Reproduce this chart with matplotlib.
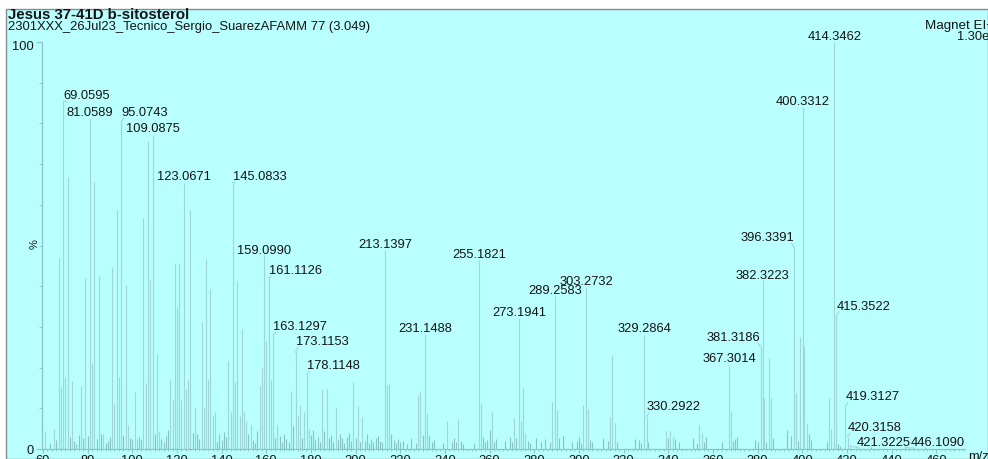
import matplotlib
matplotlib.use("Agg")
import matplotlib.pyplot as plt
from matplotlib.patches import Rectangle
from matplotlib.ticker import MultipleLocator, FixedLocator
from matplotlib.transforms import ScaledTranslation

plt.rcParams['font.family'] = ['Liberation Sans', 'DejaVu Sans']

# labelled peaks: m/z and relative intensity (%)
peak_mz = [69.0595, 81.0589, 95.0743, 109.0875, 123.0671, 145.0833, 159.0990,
           161.1126, 163.1297, 173.1153, 178.1148, 213.1397, 231.1488, 255.1821,
           273.1941, 289.2583, 303.2732, 329.2864, 330.2922, 367.3014, 381.3186,
           382.3223, 396.3391, 400.3312, 414.3462, 415.3522, 419.3127, 420.3158,
           421.3225, 446.1090]
peak_pct = [85.5, 81.1, 80.4, 77.1, 65.4, 65.4, 47.7,
            42.0, 28.0, 23.8, 18.2, 48.9, 28.3, 46.4,
            32.2, 37.6, 39.6, 28.0, 7.9, 20.6, 25.1,
            41.5, 49.6, 84.0, 100.0, 32.9, 10.4, 3.0,
            0.8, 0.4]

# unlabelled peaks
other_mz = [61, 65, 67, 68, 70, 71, 73, 77, 79, 82, 83, 85, 87, 91, 92, 93, 94, 97,
            98, 101, 102, 105, 106, 107, 108, 111, 112, 117, 118, 119, 120, 121, 122,
            124, 125, 126, 128, 131, 132, 133, 134, 135, 136, 137, 143, 144, 146, 147,
            148, 149, 150, 151, 153, 157, 158, 160, 162, 165, 171, 174, 175, 177, 179,
            185, 187, 191, 199, 201, 203, 214, 215, 228, 229, 232, 241, 246, 256, 261,
            271, 274, 275, 276, 288, 290, 302, 304, 314, 315, 316, 339, 341, 342, 354,
            355, 368, 383, 385, 386, 397, 399, 401, 402, 412, 413]
other_pct = [4.4, 4.9, 47.0, 15.2, 17.8, 66.9, 16.8, 15.6, 41.9, 21.1, 65.5, 42.6, 3.6,
             44.6, 11.3, 58.6, 17.8, 40.3, 6.0, 14.1, 2.5, 56.7, 16.3, 75.7, 41.8, 23.3,
             4.5, 17.0, 12.0, 45.6, 35.0, 45.8, 12.0, 14.7, 17.0, 58.6, 10.0, 31.3, 10.0,
             46.7, 17.0, 39.2, 8.0, 9.0, 21.7, 9.0, 16.5, 41.3, 8.0, 29.5, 9.0, 7.0, 6.0,
             15.5, 19.8, 26.6, 17.0, 6.0, 14.2, 8.4, 10.8, 9.2, 5.0, 14.7, 14.7, 10.4,
             16.5, 10.5, 7.9, 15.7, 16.0, 13.3, 14.3, 8.9, 7.0, 7.4, 11.1, 9.2, 7.6, 7.0,
             14.9, 4.0, 11.6, 9.6, 10.8, 9.8, 7.9, 23.1, 6.5, 4.3, 4.4, 3.2, 5.9, 4.0, 9.3,
             12.6, 22.4, 12.6, 13.7, 27.4, 25.4, 6.4, 12.6, 4.8]

# small background ions near the baseline
small_mz = [63, 66, 72, 74, 75, 76, 78, 80, 84, 86, 88, 89, 90, 96, 99, 100, 103, 104,
            110, 113, 114, 115, 116, 127, 129, 130, 138, 139, 140, 141, 142, 152, 154,
            155, 156, 164, 166, 167, 168, 169, 170, 172, 176, 180, 181, 182, 183, 184,
            186, 188, 189, 190, 192, 193, 194, 195, 196, 197, 198, 200, 202, 204, 205,
            206, 207, 208, 209, 210, 211, 212, 216, 217, 218, 219, 220, 221, 223, 225,
            227, 230, 233, 234, 235, 239, 243, 244, 245, 247, 248, 253, 257, 258, 259,
            260, 262, 263, 267, 269, 270, 272, 277, 278, 281, 283, 285, 287, 291, 293,
            297, 299, 300, 301, 305, 306, 311, 313, 317, 325, 327, 328, 331, 340, 343,
            345, 351, 353, 356, 357, 364, 369, 370, 371, 379, 380, 384, 387, 393, 395,
            398, 403, 404, 411, 416, 417, 431, 455]
small_pct = [1.5, 2.2, 3.0, 2.0, 1.2, 3.5, 2.6, 3.2, 2.4, 3.8, 1.4, 2.0, 3.0, 3.4, 2.8,
             2.5, 3.0, 2.2, 3.6, 2.4, 1.6, 3.2, 4.6, 4.0, 3.6, 2.4, 1.8, 3.8, 2.2, 4.2,
             3.0, 3.8, 2.2, 1.4, 4.4, 2.8, 3.2, 1.6, 3.8, 2.4, 1.8, 5.6, 2.8, 3.4, 4.6,
             2.2, 3.0, 1.6, 4.4, 2.6, 3.4, 1.8, 2.2, 3.6, 2.8, 1.4, 3.0, 4.0, 2.0, 2.6,
             1.6, 2.0, 3.8, 1.4, 2.4, 1.8, 2.8, 3.2, 2.0, 1.6, 3.6, 2.2, 1.4, 2.4, 1.8,
             2.0, 1.2, 2.6, 1.4, 3.4, 3.2, 1.8, 2.2, 1.4, 1.8, 2.6, 1.6, 2.0, 1.2, 1.4,
             3.0, 1.6, 2.2, 4.6, 1.8, 2.4, 2.0, 3.0, 1.6, 2.8, 2.0, 1.4, 2.6, 1.6, 2.4,
             1.8, 2.6, 3.2, 1.6, 2.0, 3.0, 1.4, 2.2, 1.6, 2.8, 2.0, 1.6, 2.4, 2.2, 1.4,
             1.8, 2.6, 2.4, 1.6, 2.8, 1.4, 1.8, 3.0, 1.6, 2.0, 2.4, 3.0, 2.2, 1.8, 1.6,
             2.8, 4.6, 3.2, 2.0, 3.6, 2.2, 1.6, 1.2, 0.8, 0.6, 0.5]

# where each label sits (% height of text centre) and which side of the peak it hangs
label_y = [86.8, 82.6, 82.6, 78.6, 66.8, 66.8, 48.6,
           43.8, 30.0, 26.3, 20.5, 50.1, 29.5, 47.7,
           33.4, 38.8, 41.1, 29.5, 10.3, 22.1, 27.3,
           42.6, 51.8, 85.3, 101.2, 35.0, 12.8, 5.2,
           1.5, 1.5]
label_side = ['l', 'c', 'l', 'c', 'c', 'l', 'c',
              'l', 'l', 'l', 'l', 'c', 'c', 'c',
              'c', 'c', 'c', 'c', 'l', 'c', 'r',
              'c', 'r', 'c', 'c', 'l', 'l', 'l',
              'l', 'l']
label_shift_px = {421.3225: 7, 446.1090: 6}

x_ticks = list(range(60, 461, 20))

BG = '#b9ffff'
PEAK = '#9fd6d9'
AXIS = '#8cc3c7'
TXT = '#141414'

W, H = 988, 459
fig = plt.figure(figsize=(W / 100, H / 100), dpi=100)
fig.patch.set_facecolor('white')
fig.patches.append(Rectangle((6 / W, 0), 1 - 6 / W, 1 - 9 / H, transform=fig.transFigure,
                             facecolor=BG, edgecolor='#8a8a8a', lw=1.0, zorder=-1))

ax = fig.add_axes([42 / W, 10 / H, (965 - 42) / W, (449 - 42) / H])
ax.set_facecolor('none')
ax.set_xlim(59.55, 472.9)
ax.set_ylim(0, 100)
px_per_unit = (965 - 42) / (472.9 - 59.55)

ax.vlines(small_mz, 0, small_pct, color='#86c3c6', lw=0.8)
ax.vlines(other_mz, 0, other_pct, color=PEAK, lw=0.8)
ax.vlines(peak_mz, 0, peak_pct, color=PEAK, lw=0.8)

for mz, h, ly, side in zip(peak_mz, peak_pct, label_y, label_side):
    txt = f'{mz:.4f}'
    shift = label_shift_px.get(mz, 0) / px_per_unit
    if side == 'c':
        ax.text(mz, ly, txt, ha='center', va='center', fontsize=9.3, color=TXT)
        continue
    sgn = 1 if side == 'l' else -1
    ax.text(mz + shift, ly, txt, ha='left' if side == 'l' else 'right', va='center',
            fontsize=9.3, color=TXT, clip_on=False)
    end_x = mz + shift + sgn * 2.5 / px_per_unit
    ax.plot([mz, end_x], [h, ly - 1.3], color=PEAK, lw=0.8, clip_on=False)

for s in ['top', 'right']:
    ax.spines[s].set_visible(False)
for s in ['left', 'bottom']:
    ax.spines[s].set_color(AXIS)
    ax.spines[s].set_linewidth(0.9)

ax.set_xticks(x_ticks)
ax.xaxis.set_minor_locator(MultipleLocator(2))
ax.tick_params(axis='x', which='major', length=3, pad=1, color=AXIS, labelsize=9.3,
               labelcolor=TXT)
ax.tick_params(axis='x', which='minor', length=1.5, color=AXIS)
ax.set_yticks([0, 100])
ax.set_yticklabels(['0', '100'])
ax.yaxis.set_minor_locator(FixedLocator(list(range(10, 100, 10))))
ax.tick_params(axis='y', which='major', length=4, pad=2, color=AXIS, labelsize=9.3,
               labelcolor=TXT)
ax.tick_params(axis='y', which='minor', length=2.5, color=AXIS)
# the "100" label sits a little below its tick
top_lbl = ax.get_yticklabels()[1]
top_lbl.set_transform(top_lbl.get_transform() + ScaledTranslation(0, -4 / 100, fig.dpi_scale_trans))

fig.text(8 / W, 1 - 15 / H, 'Jesus 37-41D b-sitosterol', fontsize=10.8,
         fontweight='bold', color=TXT, va='center', ha='left')
fig.text(8 / W, 1 - 27 / H, '2301XXX_26Jul23_Tecnico_Sergio_SuarezAFAMM 77 (3.049)',
         fontsize=9.4, color=TXT, va='center', ha='left')
fig.text(925 / W, 1 - 26 / H, 'Magnet EI+', fontsize=9.6, color=TXT, va='center', ha='left')
fig.text(957 / W, 1 - 37 / H, '1.30e7', fontsize=9.3, color=TXT, va='center', ha='left')
fig.text(35 / W, 1 - 244 / H, '%', fontsize=8, color=TXT, rotation=90,
         va='center', ha='center')
fig.text(968 / W, 1 - 457 / H, 'm/z', fontsize=9.3, color=TXT, va='center', ha='left')

fig.savefig('out.png', dpi=100)
